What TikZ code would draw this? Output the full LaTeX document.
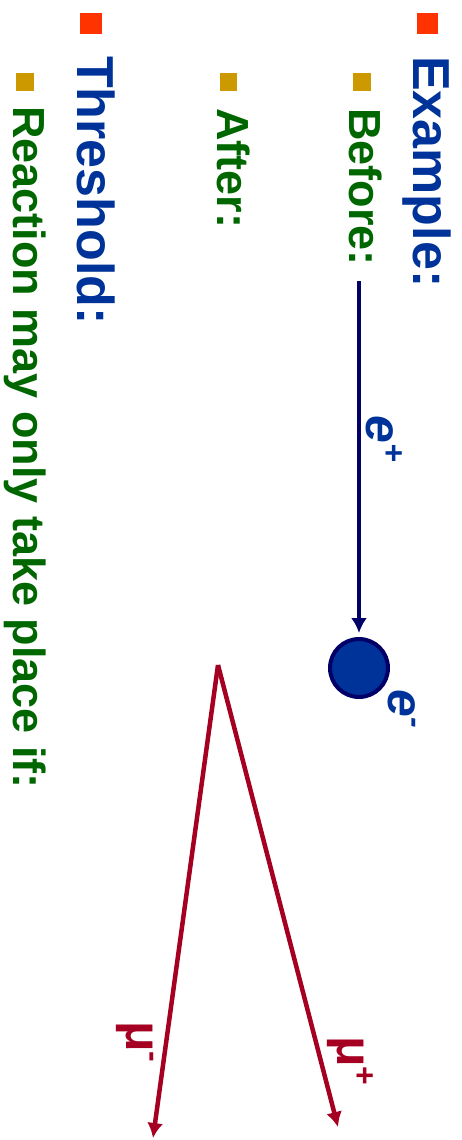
\documentclass[tikz,border=0pt]{standalone}
\usepackage{fontspec}
\setmainfont{Liberation Sans}
\usetikzlibrary{arrows.meta}
\definecolor{slideblue}{HTML}{003399}
\definecolor{slidegreen}{HTML}{006600}
\definecolor{bulletred}{HTML}{FF3300}
\definecolor{bulletgold}{HTML}{CC9900}
\definecolor{navyline}{HTML}{000066}
\definecolor{muonred}{HTML}{A50021}
\begin{document}
\begin{tikzpicture}[x=1pt,y=-1pt,
  headtext/.style={anchor=base west,rotate=-90,inner sep=0,font=\bfseries\fontsize{52}{60}\selectfont,text=slideblue},
  subtext/.style={anchor=base west,rotate=-90,inner sep=0,font=\bfseries\fontsize{45}{54}\selectfont,text=slidegreen},
  particle/.style={anchor=base west,rotate=-90,inner sep=0,font=\bfseries\fontsize{50}{58}\selectfont},
  track/.style={line width=4.5pt,-{Latex[length=15pt,width=16pt]}}]
  \useasboundingbox (0,0) rectangle (462,1140);
  % bullets
  \fill[bulletred] (417,13) rectangle (438,34);
  \fill[bulletred] (80,13) rectangle (102,34);
  \fill[bulletgold] (353,73) rectangle (371,91);
  \fill[bulletgold] (220,73) rectangle (237,91);
  \fill[bulletgold] (16,73) rectangle (34,91);
  % text lines
  \node[headtext] (example) at (413,56) {Example:};
  \node[subtext] (before) at (349,108) {Before:};
  \node[subtext] (after) at (217,108) {After:};
  \node[headtext] (threshold) at (77,56) {Threshold:};
  \node[subtext] (reaction) at (13,106) {Reaction may only take place if:};
  % before: positron onto electron at rest
  \coordinate (estart) at (359,281);
  \node[circle,draw=navyline,line width=4pt,fill=slideblue,minimum size=58pt,inner sep=0] (eminus) at (359,668) {};
  \draw[track,navyline,shorten >=4pt] (estart) -- (eminus);
  \node[particle,text=slideblue] (eplabel) at (366,415) {\itshape e\raisebox{17pt}{\fontsize{32}{34}\selectfont +}};
  \node[particle,text=slideblue] (emlabel) at (388,689) {\itshape e\raisebox{17pt}{\fontsize{32}{34}\selectfont -}};
  % after: muon pair
  \coordinate (vertex) at (218,665);
  \coordinate (muminus) at (153,1138);
  \coordinate (muplus) at (338,1127);
  \draw[track,muonred] (vertex) -- (muminus);
  \draw[track,muonred] (vertex) -- (muplus);
  \node[particle,text=muonred] (mmlabel) at (126,1021) {μ\raisebox{17pt}{\fontsize{32}{34}\selectfont -}};
  \node[particle,text=muonred] (mplabel) at (337,1036) {μ\raisebox{17pt}{\fontsize{32}{34}\selectfont +}};
\end{tikzpicture}
\end{document}
